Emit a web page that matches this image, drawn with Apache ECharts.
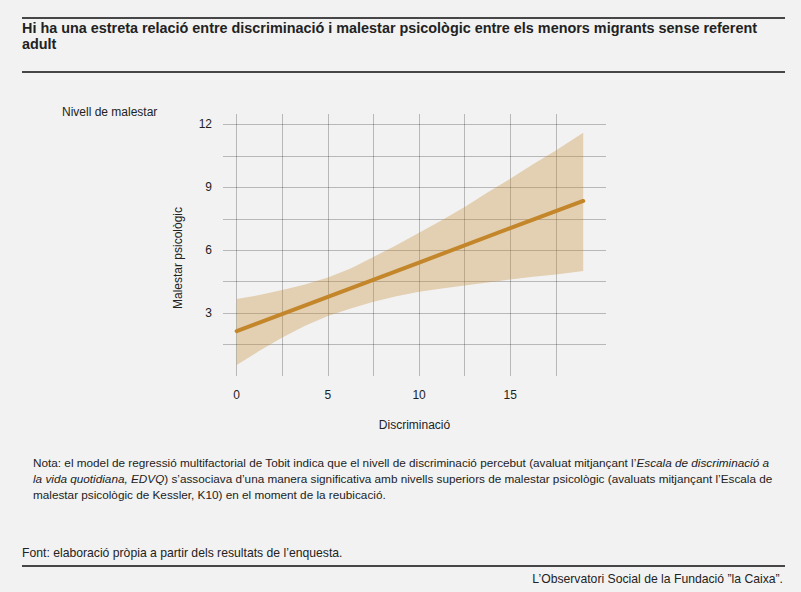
<!DOCTYPE html>
<html>
<head>
<meta charset="utf-8">
<script src="https://cdn.jsdelivr.net/npm/echarts@6/dist/echarts.min.js"></script>
<style>
  html, body { margin: 0; padding: 0; background: #f2f2f2; }
  #chart { width: 801px; height: 592px; }
</style>
</head>
<body>
<div id="chart"></div>
<script>
// values
const discriminacio = [0, 1.25, 2.5, 3.75, 5, 6.25, 7.5, 8.75, 10, 11.25, 12.5, 13.75, 15, 16.25, 17.5, 19]
const bandLower = [0.52, 1.2, 1.84, 2.4, 2.86, 3.22, 3.54, 3.81, 4.02, 4.18, 4.32, 4.46, 4.6, 4.73, 4.84, 5.01]
const bandUpper = [3.67, 3.86, 4.1, 4.37, 4.7, 5.13, 5.68, 6.24, 6.83, 7.43, 8.06, 8.75, 9.41, 10.1, 10.76, 11.6]
const fitX = [0, 5, 10, 15, 19]
const malestarFit = [2.14, 3.78, 5.41, 7.06, 8.35]
const xTickLabels = [0, 5, 10, 15]
const yTickLabels = [3, 6, 9, 12]

const FONT = '"Liberation Sans Narrow", "Liberation Sans", sans-serif'
const TEXT = '#222'
const GRID = 'rgba(0,0,0,0.24)'

// axis ranges (ggplot style padding around the data)
const X_MIN = -0.75, X_MAX = 20.25, X_STEP = 0.25, X_GRID = 2.5, X_GRID_LAST = 17.5
const Y_MIN = 0, Y_MAX = 12.5, Y_STEP = 1.5, Y_GRID_LAST = 12

// one colour per tick: grey where a grid line belongs, transparent elsewhere
function gridColors(min, max, step, keep) {
  const colors = []
  for (let v = min; v <= max + 1e-9; v += step) {
    colors.push(keep(Math.round(v * 1000) / 1000) ? GRID : 'rgba(0,0,0,0)')
  }
  return colors
}

const xColors = gridColors(X_MIN, X_MAX, X_STEP,
  v => v >= 0 && v <= X_GRID_LAST && Math.abs(v / X_GRID - Math.round(v / X_GRID)) < 1e-6)
const yColors = gridColors(Y_MIN, Y_MAX, Y_STEP, v => v > 0 && v <= Y_GRID_LAST)

// band rows: x, lower, upper
const bandRows = discriminacio.map((x, i) => [x, bandLower[i], bandUpper[i]])

// draw the confidence band as one polygon: upper edge left to right, lower edge back
function renderBand(params, api) {
  if (params.dataIndex !== 0) return null
  const upper = bandRows.map(r => api.coord([r[0], r[2]]))
  const lower = bandRows.slice().reverse().map(r => api.coord([r[0], r[1]]))
  return {
    type: 'polygon',
    shape: { points: upper.concat(lower) },
    style: { fill: 'rgba(196,134,40,0.32)' },
    silent: true
  }
}

const chart = echarts.init(document.getElementById('chart'), null, { renderer: 'svg' })

chart.setOption({
  animation: false,
  backgroundColor: '#f2f2f2',
  textStyle: { fontFamily: FONT, color: TEXT },
  grid: { left: 223, right: 195, top: 114, bottom: 216, containLabel: false },
  xAxis: {
    type: 'value',
    min: X_MIN,
    max: X_MAX,
    interval: X_STEP,
    name: 'Discriminació',
    nameLocation: 'middle',
    nameGap: 43,
    nameTextStyle: { fontFamily: FONT, fontSize: 12, color: TEXT },
    axisLine: { show: false },
    axisTick: { show: false },
    axisLabel: {
      margin: 13,
      fontFamily: FONT,
      fontSize: 12,
      color: TEXT,
      formatter: v => xTickLabels.some(t => Math.abs(t - v) < 1e-6) ? String(Math.round(v)) : ''
    },
    splitLine: { show: true, lineStyle: { color: xColors, width: 1 } }
  },
  yAxis: {
    type: 'value',
    min: Y_MIN,
    max: Y_MAX,
    interval: Y_STEP,
    axisLine: { show: false },
    axisTick: { show: false },
    axisLabel: {
      margin: 11,
      fontFamily: FONT,
      fontSize: 12,
      color: TEXT,
      formatter: v => yTickLabels.some(t => Math.abs(t - v) < 1e-6) ? String(Math.round(v)) : ''
    },
    splitLine: { show: true, lineStyle: { color: yColors, width: 1 } }
  },
  series: [
    {
      type: 'custom',
      renderItem: renderBand,
      data: bandRows,
      encode: { x: 0, y: [1, 2] },
      clip: true,
      z: 2
    },
    {
      type: 'line',
      data: fitX.map((x, i) => [x, malestarFit[i]]),
      symbol: 'none',
      lineStyle: { color: '#c4862a', width: 4, cap: 'round' },
      z: 5
    }
  ],
  graphic: [
    { type: 'line', shape: { x1: 22, y1: 18, x2: 785, y2: 18 }, style: { stroke: '#474747', lineWidth: 2 } },
    {
      type: 'text', x: 22, y: 36,
      style: {
        text: 'Hi ha una estreta relació entre discriminació i malestar psicològic entre els menors migrants sense referent\nadult',
        fontFamily: FONT, fontSize: 14.4, fontWeight: 'bold', fill: TEXT,
        lineHeight: 16, verticalAlign: 'middle'
      }
    },
    { type: 'line', shape: { x1: 22, y1: 72, x2: 785, y2: 72 }, style: { stroke: '#474747', lineWidth: 2 } },
    {
      type: 'text', x: 62, y: 112,
      style: { text: 'Nivell de malestar', fontFamily: FONT, fontSize: 12, fill: TEXT, verticalAlign: 'middle' }
    },
    {
      type: 'text', x: 178, y: 258, rotation: Math.PI / 2,
      style: { text: 'Malestar psicològic', fontFamily: FONT, fontSize: 12, fill: TEXT, align: 'center', verticalAlign: 'middle' }
    },
    {
      type: 'text', x: 33, y: 478,
      style: {
        text: 'Nota: el model de regressió multifactorial de Tobit indica que el nivell de discriminació percebut (avaluat mitjançant l’{i|Escala de discriminació a}\n' +
          '{i|la vida quotidiana, EDVQ}) s’associava d’una manera significativa amb nivells superiors de malestar psicològic (avaluats mitjançant l’Escala de\n' +
          'malestar psicològic de Kessler, K10) en el moment de la reubicació.',
        fontFamily: FONT, fontSize: 11.75, fill: TEXT, lineHeight: 16, verticalAlign: 'middle',
        rich: { i: { fontStyle: 'italic', fontFamily: FONT, fontSize: 11.75, fill: TEXT, lineHeight: 16 } }
      }
    },
    {
      type: 'text', x: 22, y: 553,
      style: { text: 'Font: elaboració pròpia a partir dels resultats de l’enquesta.', fontFamily: FONT, fontSize: 12.2, fill: TEXT, verticalAlign: 'middle' }
    },
    { type: 'line', shape: { x1: 22, y1: 566, x2: 785, y2: 566 }, style: { stroke: '#474747', lineWidth: 2 } },
    {
      type: 'text', x: 783, y: 579,
      style: { text: 'L’Observatori Social de la Fundació ”la Caixa”.', fontFamily: FONT, fontSize: 12.2, fill: TEXT, align: 'right', verticalAlign: 'middle' }
    }
  ]
})
</script>
</body>
</html>
